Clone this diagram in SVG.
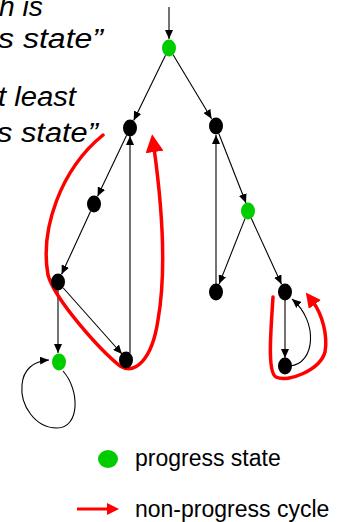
<svg xmlns="http://www.w3.org/2000/svg" width="337" height="522" viewBox="0 0 337 522">
<style>
.t{font-family:"Liberation Sans",Arial,sans-serif;font-style:italic;font-size:27px;fill:#000}
.lg{font-family:"Liberation Sans",Arial,sans-serif;font-size:23px;fill:#000}
.e{stroke:#000;stroke-width:1.1;fill:none;marker-end:url(#ah)}
.r{stroke:#ff0000;stroke-width:3.5;fill:none;stroke-linecap:round}
.g{fill:#00cc00}
.b{fill:#000}
</style>
<defs>
<marker id="ah" markerWidth="9" markerHeight="8" refX="9" refY="4" orient="auto" markerUnits="userSpaceOnUse"><path d="M0,0 L9,4 L0,8 z" fill="#000"/></marker>
<marker id="rb" markerWidth="18" markerHeight="18" refX="4" refY="9" orient="auto" markerUnits="userSpaceOnUse"><path d="M0,0 L18,9 L0,18 z" fill="#ff0000"/></marker>
<marker id="rs" markerWidth="15" markerHeight="15" refX="3" refY="7.5" orient="auto" markerUnits="userSpaceOnUse"><path d="M0,0 L15,7.5 L0,15 z" fill="#ff0000"/></marker>
</defs>
<g id="text">
<text class="t" x="-1" y="16" textLength="44" lengthAdjust="spacingAndGlyphs">h is</text>
<text class="t" x="-2" y="48" textLength="105" lengthAdjust="spacingAndGlyphs">s state”</text>
<text class="t" x="-2" y="106" textLength="78" lengthAdjust="spacingAndGlyphs">t least</text>
<text class="t" x="-3" y="142" textLength="101" lengthAdjust="spacingAndGlyphs">s state”</text>
</g>
<g id="connectors">
<line class="e" x1="169" y1="7" x2="169" y2="39"/>
<line class="e" x1="165.5" y1="55.2" x2="133.7" y2="120.4"/>
<line class="e" x1="173.1" y1="54.8" x2="211.6" y2="118.7"/>
<line class="e" x1="126.6" y1="135.2" x2="97.6" y2="196.3"/>
<line class="e" x1="90.6" y1="211.3" x2="61.6" y2="274.3"/>
<line class="e" x1="58" y1="290" x2="58" y2="353"/>
<line class="e" x1="63.3" y1="288" x2="122" y2="354"/>
<line class="e" x1="130" y1="353" x2="130" y2="136"/>
<line class="e" x1="218.8" y1="133.5" x2="246" y2="203"/>
<line class="e" x1="245.1" y1="218.4" x2="219.1" y2="284.1"/>
<line class="e" x1="251.3" y1="218.3" x2="281.5" y2="284.3"/>
<line class="e" x1="216" y1="284" x2="216" y2="135"/>
<line class="e" x1="285" y1="300" x2="285" y2="358"/>
<path class="e" d="M290 366 C315 364,319 322,292 299"/>
<path class="e" d="M63 371 C80 390,80 428,57 428 C35 428,20 405,22 385 C23 370,33 361,49 360"/>
</g>
<g id="cycles">
<path class="r" marker-end="url(#rb)" d="M103 135 C60 170,40 230,48 275 C55 300,100 350,120 366 C135 375,152 360,158 320 C165 280,164 220,154 148"/>
<path class="r" marker-end="url(#rs)" d="M273 297 C271 330,267 372,276 377 C288 383,320 370,325 352 C328 335,322 314,313 302"/>
</g>
<g id="n0"><ellipse class="g" cx="169" cy="48" rx="7" ry="8.5"/></g>
<g id="nA"><ellipse class="b" cx="130" cy="128" rx="7" ry="8.5"/></g>
<g id="nB"><ellipse class="b" cx="216" cy="126" rx="7" ry="8.5"/></g>
<g id="nC"><ellipse class="b" cx="94" cy="204" rx="7" ry="8.5"/></g>
<g id="nD"><ellipse class="b" cx="58" cy="282" rx="7" ry="8.5"/></g>
<g id="nE"><ellipse class="g" cx="248" cy="211" rx="7" ry="8.5"/></g>
<g id="nF"><ellipse class="b" cx="216" cy="292" rx="7" ry="8.5"/></g>
<g id="nG"><ellipse class="b" cx="285" cy="292" rx="7" ry="8.5"/></g>
<g id="nH"><ellipse class="b" cx="285" cy="366" rx="7" ry="8.5"/></g>
<g id="nI"><ellipse class="g" cx="59" cy="362" rx="7" ry="8.5"/></g>
<g id="nJ"><ellipse class="b" cx="126" cy="360" rx="7" ry="8.5"/></g>
<g id="legend">
<ellipse class="g" cx="108" cy="459" rx="10" ry="9"/>
<text class="lg" x="135" y="466">progress state</text>
<line x1="77" y1="509" x2="110" y2="509" stroke="#ff0000" stroke-width="3"/>
<path d="M107 503 L119 509 L107 515 z" fill="#ff0000"/>
<text class="lg" x="135" y="517">non-progress cycle</text>
</g>
</svg>
